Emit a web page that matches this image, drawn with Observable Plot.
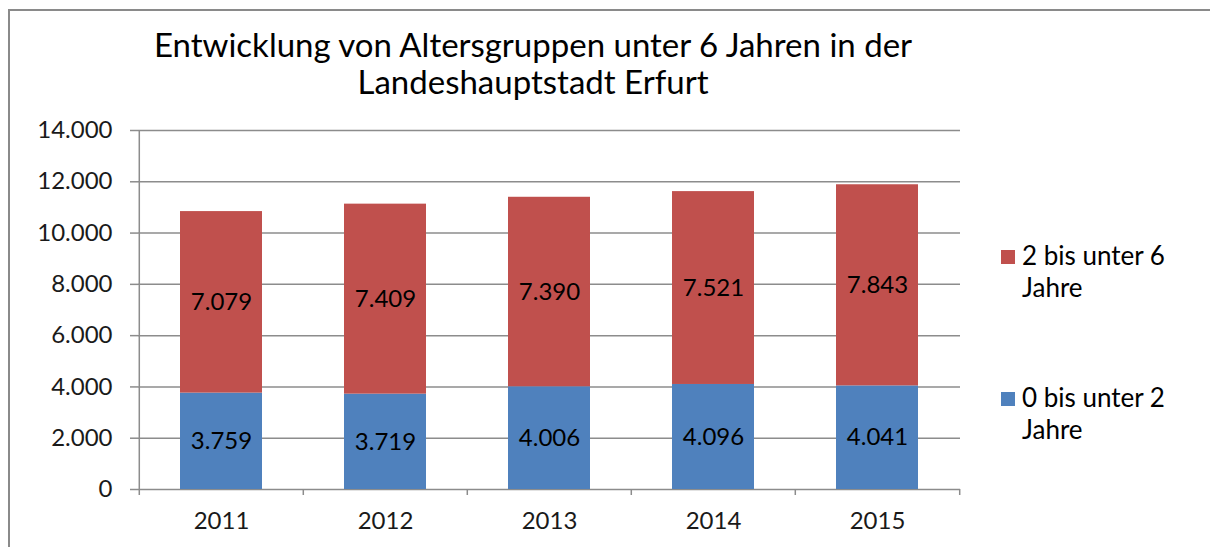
<!DOCTYPE html>
<html>
<head>
<meta charset="utf-8">
<script src="https://cdn.jsdelivr.net/npm/d3@7"></script>
<script src="https://cdn.jsdelivr.net/npm/@observablehq/plot@0.6"></script>
<style>
  html, body { margin: 0; padding: 0; background: #fff; }
  #wrap { position: relative; width: 1210px; height: 547px; overflow: hidden; font-family: Lato, "Open Sans", sans-serif; }
  #frame { position: absolute; left: 8px; top: 9px; width: 1300px; height: 600px; border-left: 2px solid #8a8a8a; border-top: 2px solid #8a8a8a; box-sizing: border-box; }
  #title { position: absolute; left: 83px; width: 900px; top: 26px; text-align: center; font-size: 33px; line-height: 37px; color: #000; }
  #chart { position: absolute; left: 0; top: 0; }
  .leg { position: absolute; left: 1001px; font-size: 26px; line-height: 32px; color: #000; }
  .leg .sw { position: absolute; left: 0; top: 11px; width: 14px; height: 14px; }
  .leg .tx { position: absolute; left: 21px; top: 0; width: 200px; }
</style>
</head>
<body>
<div id="wrap">
  <div id="frame"></div>
  <div id="chart"></div>
  <div id="title">Entwicklung von Altersgruppen unter 6 Jahren in der<br>Landeshauptstadt Erfurt</div>
  <div id="legend"></div>
</div>
<script>
const years = ["2011", "2012", "2013", "2014", "2015"];
const groups = ["0 bis unter 2 Jahre", "2 bis unter 6 Jahre"];
const under2 = [3759, 3719, 4006, 4096, 4041];
const from2to6 = [7079, 7409, 7390, 7521, 7843];
const yTicks = [0, 2000, 4000, 6000, 8000, 10000, 12000, 14000];
const colors = ["#4f81bd", "#c0504d"];

const de = d3.formatLocale({decimal: ",", thousands: ".", grouping: [3], currency: ["", " €"]});
const fmt = de.format(",d");

const data = [];
years.forEach((yr, i) => data.push({year: yr, group: groups[0], value: under2[i]}));
years.forEach((yr, i) => data.push({year: yr, group: groups[1], value: from2to6[i]}));

const W = 1210, H = 547;
const mL = 138, mR = 250, mT = 130, mB = 58;
const step = (W - mL - mR) / years.length;

const plot = Plot.plot({
  width: W,
  height: H,
  marginLeft: mL,
  marginRight: mR,
  marginTop: mT,
  marginBottom: mB,
  style: {fontFamily: "Lato, 'Open Sans', sans-serif", background: "transparent", overflow: "visible"},
  x: {domain: years, paddingInner: 0.5, paddingOuter: 0.25, label: null},
  y: {domain: [0, 14000], label: null},
  color: {domain: groups, range: colors},
  marks: [
    Plot.ruleY(yTicks, {stroke: "#8c8c8c", strokeWidth: 1.5}),
    Plot.barY(data, Plot.stackY({x: "year", y: "value", fill: "group", z: "group"})),
    Plot.text(data, Plot.stackY({x: "year", y: "value", z: "group", text: d => fmt(d.value), fontSize: 24, fill: "#000"})),
    Plot.ruleX(years, {x: d => d, y1: d => d === years[0] ? 14000 : 0, y2: 0, insetBottom: -6, dx: -step / 2, stroke: "#8c8c8c", strokeWidth: 1.5}),
    Plot.ruleX([years[years.length - 1]], {x: d => d, y1: 0, y2: 0, insetBottom: -6, dx: step / 2, stroke: "#8c8c8c", strokeWidth: 1.5}),
    Plot.axisY({ticks: yTicks, tickFormat: fmt, tickSize: 8, tickPadding: 18, fontSize: 24, stroke: "#8c8c8c", strokeWidth: 1.5, fill: "#1a1a1a", label: null}),
    Plot.axisX({tickSize: 0, tickPadding: 22, fontSize: 24, fill: "#1a1a1a", label: null})
  ]
});
document.getElementById("chart").appendChild(plot);

const legend = document.getElementById("legend");
const legendItems = [
  {label: "2 bis unter 6", sub: "Jahre", color: colors[1], top: 239},
  {label: "0 bis unter 2", sub: "Jahre", color: colors[0], top: 381}
];
legendItems.forEach(it => {
  const d = document.createElement("div");
  d.className = "leg";
  d.style.top = it.top + "px";
  d.innerHTML = `<div class="sw" style="background:${it.color}"></div><div class="tx">${it.label}<br>${it.sub}</div>`;
  legend.appendChild(d);
});
</script>
</body>
</html>
